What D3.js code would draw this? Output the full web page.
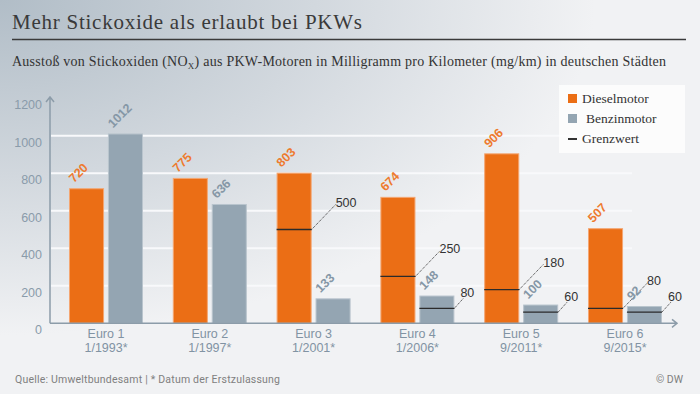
<!DOCTYPE html>
<html>
<head>
<meta charset="utf-8">
<script src="https://cdn.jsdelivr.net/npm/d3@7"></script>
<style>
  html, body { margin: 0; padding: 0; }
  body { width: 700px; height: 394px; overflow: hidden; }
</style>
</head>
<body>
<div id="chart"></div>
<script>
const categories = ["Euro 1", "Euro 2", "Euro 3", "Euro 4", "Euro 5", "Euro 6"]
const dates = ["1/1993*", "1/1997*", "1/2001*", "1/2006*", "9/2011*", "9/2015*"]
const diesel = [720, 775, 803, 674, 906, 507]
const benzin = [1012, 636, 133, 148, 100, 92]
const dieselLimit = [null, null, 500, 250, 180, 80]
const benzinLimit = [null, null, null, 80, 60, 60]
const yTicks = [0, 200, 400, 600, 800, 1000, 1200]
const gridTicks = [200, 400, 600, 800, 1000]

const width = 700,
    height = 394

const orange = "#eb6e15",
    grey = "#94a5b2"

const svg = d3.select("#chart").append("svg")
        .attr("width", width)
        .attr("height", height)

// background
const defs = svg.append("defs")
const bg = defs.append("radialGradient")
        .attr("id", "bg")
        .attr("cx", 0).attr("cy", 0).attr("r", 1)
        .attr("fx", 0).attr("fy", 0)
bg.append("stop").attr("offset", 0).attr("stop-color", "#b1bdc7")
bg.append("stop").attr("offset", 0.45).attr("stop-color", "#d2d8de")
bg.append("stop").attr("offset", 0.85).attr("stop-color", "#f1f2f4")
svg.append("rect").attr("width", width).attr("height", height).attr("fill", "url(#bg)")

// titles
svg.append("text")
        .attr("x", 12).attr("y", 29)
        .attr("font-family", "Liberation Serif, serif")
        .attr("font-size", 21)
        .attr("fill", "#3a3a3a")
        .attr("textLength", 350)
        .text("Mehr Stickoxide als erlaubt bei PKWs")

svg.append("line")
        .attr("x1", 12).attr("x2", 686)
        .attr("y1", 39.5).attr("y2", 39.5)
        .attr("stroke", "#3a3a3a").attr("stroke-width", 1.5)

const sub = svg.append("text")
        .attr("x", 12).attr("y", 66)
        .attr("font-family", "Liberation Serif, serif")
        .attr("font-size", 14)
        .attr("fill", "#333")
        .attr("textLength", 654)
sub.append("tspan").text("Ausstoß von Stickoxiden (NO")
sub.append("tspan").attr("font-size", 9).attr("dy", 3).text("X")
sub.append("tspan").attr("dy", -3).text(") aus PKW-Motoren in Milligramm pro Kilometer (mg/km) in deutschen Städten")

// scales
const x0 = d3.scaleBand()
        .domain(categories)
        .range([50, 681])
        .paddingInner(0.287)
        .paddingOuter(0.183)

const x1 = d3.scaleBand()
        .domain(["diesel", "benzin"])
        .range([0, x0.bandwidth()])
        .paddingInner(0.1)

const y = d3.scaleLinear().domain([0, 1000]).range([323.3, 135.7])

// grid
svg.append("g")
        .selectAll("line")
        .data(gridTicks)
        .enter()
        .append("line")
        .attr("x1", 51).attr("x2", 632)
        .attr("y1", d => y(d)).attr("y2", d => y(d))
        .attr("stroke", "#f8f9fb").attr("stroke-width", 2)

// y axis labels
const yAxis = svg.append("g")
        .attr("transform", "translate(50,0)")
        .call(d3.axisLeft(y).tickValues(yTicks).tickFormat(d3.format("d")).tickSize(0).tickPadding(8))
yAxis.select(".domain").remove()
yAxis.selectAll("text")
        .attr("dy", "0.85em")
        .attr("font-family", "Liberation Sans, Arial, sans-serif")
        .attr("font-size", 12.5)
        .attr("fill", "#8a9baa")

// bars
const rows = categories.map((c, i) => ({
    cat: c,
    bars: [
        { key: "diesel", value: diesel[i], limit: dieselLimit[i] },
        { key: "benzin", value: benzin[i], limit: benzinLimit[i] }
    ]
}))

const groups = svg.append("g")
        .selectAll("g")
        .data(rows)
        .enter()
        .append("g")
        .attr("transform", d => "translate(" + x0(d.cat) + ",0)")

const bars = groups.selectAll("g")
        .data(d => d.bars)
        .enter()
        .append("g")

bars.append("rect")
        .attr("x", d => x1(d.key) + 0.5)
        .attr("y", d => y(d.value) + 0.5)
        .attr("width", x1.bandwidth() - 1)
        .attr("height", d => y(0) - y(d.value) - 0.5)
        .attr("fill", d => d.key == "diesel" ? orange : grey)
        .attr("stroke", d => d.key == "diesel" ? "#f4a672" : "#b9c4cd")
        .attr("stroke-width", 1)

bars.append("text")
        .attr("transform", d => "translate(" + (x1(d.key) + 5) + "," + (y(d.value) - 5) + ") rotate(-45)")
        .attr("font-family", "Liberation Sans, Arial, sans-serif")
        .attr("font-size", 12.5)
        .attr("font-weight", "bold")
        .attr("fill", d => d.key == "diesel" ? "#ee7a2e" : "#8597a6")
        .text(d => d.value)

// limits
const limited = bars.filter(d => d.limit != null)

limited.append("line")
        .attr("x1", d => x1(d.key))
        .attr("x2", d => x1(d.key) + x1.bandwidth())
        .attr("y1", d => y(d.limit)).attr("y2", d => y(d.limit))
        .attr("stroke", "#2b2b2b").attr("stroke-width", 1.3)

const lead = d => d.key == "diesel" ? 24 : 9

limited.append("line")
        .attr("x1", d => x1(d.key) + x1.bandwidth())
        .attr("y1", d => y(d.limit))
        .attr("x2", d => x1(d.key) + x1.bandwidth() + lead(d))
        .attr("y2", d => y(d.limit) - lead(d) - 1)
        .attr("stroke", "#333").attr("stroke-width", 1)
        .attr("stroke-dasharray", "1,1")

limited.append("text")
        .attr("x", d => x1(d.key) + x1.bandwidth() + lead(d) - (d.key == "diesel" ? 0 : 3))
        .attr("y", d => y(d.limit) - lead(d) - (d.key == "diesel" ? -1 : 2))
        .attr("font-family", "Liberation Sans, Arial, sans-serif")
        .attr("font-size", 12.5)
        .attr("fill", "#333")
        .text(d => d.limit)

// axes lines
const axisColor = "#8c9ca9"
svg.append("path")
        .attr("d", "M50," + y(0) + "V97 M46,102 L50,97 L54,102")
        .attr("fill", "none").attr("stroke", axisColor).attr("stroke-width", 1.5)
svg.append("path")
        .attr("d", "M50," + y(0) + "H677 M672," + (y(0) - 4) + " L677," + y(0) + " L672," + (y(0) + 4))
        .attr("fill", "none").attr("stroke", axisColor).attr("stroke-width", 1.5)

// x labels
const xAxis = svg.append("g")
        .attr("transform", "translate(0," + y(0) + ")")
        .call(d3.axisBottom(x0).tickSize(0).tickPadding(0))
xAxis.select(".domain").remove()
xAxis.selectAll("text").each(function(d, i) {
    const t = d3.select(this)
    t.text(null)
            .attr("y", 0).attr("dy", null)
            .attr("font-family", "Liberation Sans, Arial, sans-serif")
            .attr("font-size", 12.5)
            .attr("fill", "#8193a3")
    t.append("tspan").attr("x", 0).attr("y", 15).text(d)
    t.append("tspan").attr("x", 0).attr("y", 28.5).text(dates[i])
})

// legend
const legend = svg.append("g")
legend.append("rect")
        .attr("x", 559).attr("y", 85).attr("width", 126).attr("height", 68)
        .attr("fill", "#ffffff").attr("fill-opacity", 0.75)
legend.append("rect").attr("x", 568).attr("y", 94).attr("width", 9).attr("height", 9).attr("fill", orange)
legend.append("rect").attr("x", 568).attr("y", 114).attr("width", 9).attr("height", 9).attr("fill", grey)
legend.append("line").attr("x1", 568).attr("x2", 577).attr("y1", 139).attr("y2", 139)
        .attr("stroke", "#333").attr("stroke-width", 2)
const legendItems = [["Dieselmotor", 582, 103], ["Benzinmotor", 586, 123], ["Grenzwert", 582, 143]]
legend.selectAll("text")
        .data(legendItems)
        .enter()
        .append("text")
        .attr("x", d => d[1]).attr("y", d => d[2])
        .attr("font-family", "Liberation Serif, serif")
        .attr("font-size", 13.5)
        .attr("fill", "#333")
        .text(d => d[0])

// footer
svg.append("text")
        .attr("x", 15).attr("y", 383)
        .attr("font-family", "Roboto, sans-serif")
        .attr("font-size", 10.5)
        .attr("fill", "#808080")
        .attr("textLength", 265)
        .text("Quelle: Umweltbundesamt | * Datum der Erstzulassung")
svg.append("text")
        .attr("x", 683).attr("y", 383)
        .attr("text-anchor", "end")
        .attr("font-family", "Roboto, sans-serif")
        .attr("font-size", 10.5)
        .attr("fill", "#808080")
        .text("© DW")
</script>
</body>
</html>
